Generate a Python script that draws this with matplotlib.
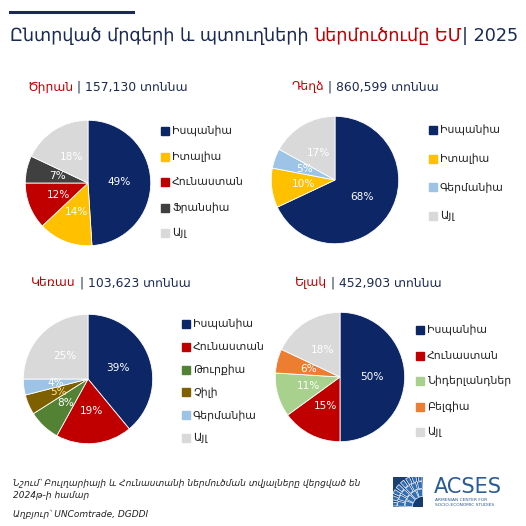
import matplotlib
matplotlib.use("Agg")
import matplotlib.pyplot as plt
from matplotlib.patches import Rectangle, Wedge
import numpy as np

plt.rcParams['font.family'] = ['DejaVu Sans']

W = H = 526
DPI = 100

NAVY = '#0d2766'
RED = '#c00000'
TXT = '#1b2a55'

title_parts = [("Ընտրված մրգերի և պտուղների ", TXT), ("ներմուծումը ԵՄ", RED), ("| 2025", TXT)]

# --- data ---
apricot_name = "Ծիրան"
apricot_total = "157,130"
apricot_labels = ["Իսպանիա", "Իտալիա", "Հունաստան", "Ֆրանսիա", "Այլ"]
apricot_values = [49, 14, 12, 7, 18]
apricot_colors = [NAVY, '#ffc000', '#c00000', '#404040', '#d9d9d9']

peach_name = "Դեղձ"
peach_total = "860,599"
peach_labels = ["Իսպանիա", "Իտալիա", "Գերմանիա", "Այլ"]
peach_values = [68, 10, 5, 17]
peach_colors = [NAVY, '#ffc000', '#9dc3e6', '#d9d9d9']

cherry_name = "Կեռաս"
cherry_total = "103,623"
cherry_labels = ["Իսպանիա", "Հունաստան", "Թուրքիա", "Չիլի", "Գերմանիա", "Այլ"]
cherry_values = [39, 19, 8, 5, 4, 25]
cherry_colors = [NAVY, '#c00000', '#548235', '#7f6000', '#9dc3e6', '#d9d9d9']

straw_name = "Ելակ"
straw_total = "452,903"
straw_labels = ["Իսպանիա", "Հունաստան", "Նիդերլանդներ", "Բելգիա", "Այլ"]
straw_values = [50, 15, 11, 6, 18]
straw_colors = [NAVY, '#c00000', '#a9d18e', '#ed7d31', '#d9d9d9']

unit = "տոննա"
note_lines = ["Նշում՝ Բուլղարիայի և Հունաստանի ներմուծման տվյալները վերցված են",
              "2024թ-ի համար"]
source_line = "Աղբյուր՝ UNComtrade, DGDDI"

fig = plt.figure(figsize=(W / DPI, H / DPI), dpi=DPI)
fig.patch.set_facecolor('white')


def fx(x):
    return x / W


def fy(y):
    return 1 - y / H


def multicolor_text(x, y, parts, size, **kw):
    renderer = fig.canvas.get_renderer()
    cur = fx(x)
    for s, c in parts:
        t = fig.text(cur, fy(y), s, color=c, fontsize=size, va='center', ha='left', **kw)
        bb = t.get_window_extent(renderer=renderer)
        cur = fig.transFigure.inverted().transform((bb.x1, bb.y0))[0]


# header line
fig.add_artist(plt.Line2D([fx(10), fx(133)], [fy(12), fy(12)], color=TXT, lw=2.2))
multicolor_text(10, 36, title_parts, 12.7)


def draw_pie(cx, cy, r, name, total, labels, values, colors, leg_x, leg_y, pitch, sub_x, sub_y, pct_colors=None):
    ax = fig.add_axes([fx(cx - r), fy(cy + r), fx(2 * r), 2 * r / H])
    wedges, _, autot = ax.pie(values, colors=colors, startangle=90, counterclock=False,
                              autopct=lambda p: f"{p:.0f}%", pctdistance=0.5,
                              wedgeprops=dict(edgecolor='white', linewidth=0.6),
                              textprops=dict(color='white', fontsize=7.6))
    for i, t in enumerate(autot):
        if pct_colors and pct_colors[i]:
            t.set_color(pct_colors[i])
    ax.set_xlim(-1.02, 1.02)
    ax.set_ylim(-1.02, 1.02)
    ax.set_aspect('equal')
    ax.axis('off')
    # legend
    for i, (lab, col) in enumerate(zip(labels, colors)):
        yy = leg_y + i * pitch
        fig.add_artist(Rectangle((fx(leg_x - 4), fy(yy + 4)), 8 / W, 8 / H, color=col,
                                 transform=fig.transFigure))
        fig.text(fx(leg_x + 7), fy(yy), lab, fontsize=7.8, color='#222222', va='center', ha='left')
    multicolor_text(sub_x, sub_y, [(name, RED), (f" | {total} {unit}", TXT)], 8.9)


draw_pie(88, 183, 64, apricot_name, apricot_total, apricot_labels, apricot_values, apricot_colors,
         165, 131, 25.5, 27, 87)
draw_pie(335, 180, 65, peach_name, peach_total, peach_labels, peach_values, peach_colors,
         433, 130, 28.7, 291, 87)
draw_pie(88, 379, 66, cherry_name, cherry_total, cherry_labels, cherry_values, cherry_colors,
         186, 324, 22.8, 31, 283, pct_colors=[None, None, None, '#ffe699', None, None])
draw_pie(340, 377, 66, straw_name, straw_total, straw_labels, straw_values, straw_colors,
         420, 330, 25.5, 295, 283)

# footnote
fs_note = 6.5
fig.text(fx(13), fy(483), note_lines[0], fontsize=fs_note, style='italic', color='#222222', va='center')
fig.text(fx(13), fy(495), note_lines[1], fontsize=fs_note, style='italic', color='#222222', va='center')
fig.text(fx(13), fy(514), source_line, fontsize=fs_note, style='italic', color='#222222', va='center')

# logo
lx0, ly0, ls = 393, 477, 30
lax = fig.add_axes([fx(lx0), fy(ly0 + ls), ls / W, ls / H])
lax.set_xlim(0, 1)
lax.set_ylim(0, 1)
lax.axis('off')
lax.add_patch(Rectangle((0, 0), 1, 1, color='#1a3f73'))
for r0, r1, n in [(0.35, 0.6, 4), (0.62, 0.85, 6), (0.87, 1.1, 8)]:
    for k in range(n):
        a0 = 90 + k * 90 / n
        a1 = 90 + (k + 1) * 90 / n
        lax.add_patch(Wedge((1, 0), r1, a0 + 2, a1 - 2, width=r1 - r0, facecolor='#2f6fb5',
                            edgecolor='white', linewidth=0.5, clip_on=True))
lax.add_patch(Wedge((1, 0), 0.33, 90, 180, facecolor='#163c6e'))
fig.text(fx(434), fy(487), "ACSES", fontsize=15, color='#2a5b96', va='center', ha='left')
fig.text(fx(435), fy(500), "ARMENIAN CENTER FOR", fontsize=3.2, color='#2a5b96', va='center', ha='left')
fig.text(fx(435), fy(505), "SOCIO-ECONOMIC STUDIES", fontsize=3.2, color='#2a5b96', va='center', ha='left')

fig.savefig("out.png", dpi=DPI, facecolor='white')
